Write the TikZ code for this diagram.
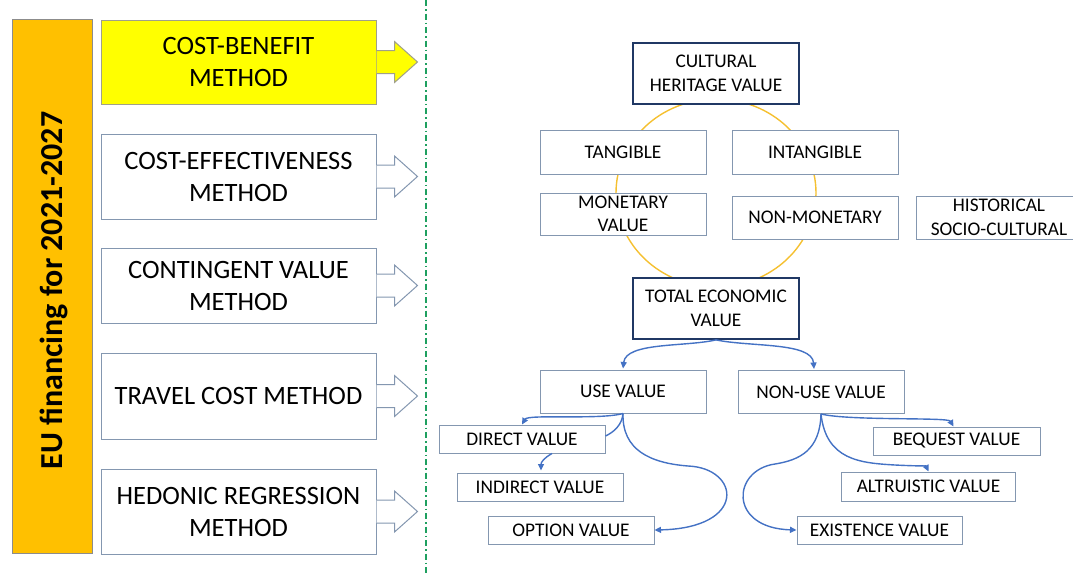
\documentclass[tikz,border=0pt]{standalone}
\usepackage{fontspec}
\setmainfont{Carlito}
\usetikzlibrary{arrows.meta,calc}
\definecolor{orangefill}{HTML}{FFC000}
\definecolor{barline}{HTML}{8C8C8C}
\definecolor{yfill}{HTML}{FFFF00}
\definecolor{yline}{HTML}{A0A08A}
\definecolor{boxline}{HTML}{8497B0}
\definecolor{navy}{HTML}{203864}
\definecolor{goldline}{HTML}{F5C030}
\definecolor{cblue}{HTML}{4472C4}
\definecolor{sepgreen}{HTML}{1FA060}
\newcommand\blkarrow[3]{\draw[fill=#2,draw=#3,line width=1pt,line join=miter] ($(#1.east)+(0,11.5)$) -- ++(18,0) -- ++(0,9) -- ++(23,-20.5) -- ++(-23,-20.5) -- ++(0,9) -- ++(-18,0);}
\tikzset{
  methodbox/.style={draw=boxline, fill=white, line width=1pt, minimum width=275pt, minimum height=85pt, inner sep=0pt, align=center, font=\fontsize{26.5}{32}\selectfont},
  valbox/.style={draw=boxline, fill=white, line width=1pt, minimum width=166pt, minimum height=43pt, inner sep=0pt, align=center, font=\fontsize{19.3}{23.5}\selectfont},
  smallbox/.style={valbox, minimum height=28pt},
  keybox/.style={valbox, draw=navy, line width=1.8pt, minimum height=61pt},
  conn/.style={draw=cblue, line width=1.4pt, -{Triangle[length=6.5pt,width=6pt]}},
  plainconn/.style={draw=cblue, line width=1.4pt}
}
\begin{document}
\begin{tikzpicture}[x=1pt,y=-1pt]
\useasboundingbox (0,0) rectangle (1073,574);
% left bar
\node[draw=barline, fill=orangefill, line width=1pt, minimum width=80pt, minimum height=534pt, inner sep=0pt] (bar) at (52,286) {};
\node[rotate=90, font=\bfseries\fontsize{32}{38}\selectfont] (bartext) at (54,290.5) {EU financing for 2021-2027};
% separator
\draw[sepgreen, line width=1.4pt, dash pattern=on 6pt off 3pt on 1.5pt off 3pt] (426,0) -- (426,574);
% method boxes
\node[methodbox, fill=yfill, draw=yline, minimum height=84pt] (m1) at (238.5,62) {COST-BENEFIT\\METHOD};
\node[methodbox] (m2) at (238.5,176.5) {COST-EFFECTIVENESS\\METHOD};
\node[methodbox, minimum height=75pt] (m3) at (238.5,285.5) {CONTINGENT VALUE\\METHOD};
\node[methodbox, minimum height=86pt] (m4) at (238.5,396) {TRAVEL COST METHOD};
\node[methodbox] (m5) at (238.5,511.5) {HEDONIC REGRESSION\\METHOD};
\blkarrow{m1}{yfill}{yline}
\blkarrow{m2}{white}{boxline}
\blkarrow{m3}{white}{boxline}
\blkarrow{m4}{white}{boxline}
\blkarrow{m5}{white}{boxline}
% ring
\draw[goldline, line width=1.4pt] (716,193) ellipse [x radius=100pt, y radius=94pt];
% value boxes
\node[keybox] (chv) at (716,73.5) {CULTURAL\\HERITAGE VALUE};
\node[valbox, minimum height=44pt] (tang) at (623,152) {TANGIBLE};
\node[valbox, minimum height=44pt] (intang) at (815,152) {INTANGIBLE};
\node[valbox, minimum height=42pt] (monet) at (623,214) {MONETARY\\[-1pt]VALUE};
\node[valbox] (nonmonet) at (815,217.5) {NON-MONETARY};
\draw[boxline, line width=1pt, fill=white] (1074,196) -- (916,196) -- (916,239) -- (1074,239);
\node[align=center, inner sep=0pt, font=\fontsize{19.3}{23.5}\selectfont] (hist) at (999,217.5) {HISTORICAL\\SOCIO-CULTURAL};
\node[keybox] (tev) at (716,308.5) {TOTAL ECONOMIC\\VALUE};
\node[valbox] (use) at (623,391.5) {USE VALUE};
\node[valbox] (nonuse) at (821,392) {NON-USE VALUE};
\node[smallbox] (direct) at (522,439) {DIRECT VALUE};
\node[smallbox] (indirect) at (540,487) {INDIRECT VALUE};
\node[smallbox] (option) at (571,530) {OPTION VALUE};
\node[smallbox, minimum width=167pt] (bequest) at (956.5,441) {BEQUEST VALUE};
\node[smallbox, minimum width=174pt, minimum height=29pt] (altru) at (928.5,486.5) {ALTRUISTIC VALUE};
\node[smallbox, minimum width=165pt] (exist) at (879.5,530) {EXISTENCE VALUE};
% connectors
\draw[conn] (tev.south) .. controls (685,347) and (626,342) .. ($(use.north)+(0,-1)$);
\draw[conn] (tev.south) .. controls (750,347) and (812,342) .. ($(nonuse.north)+(-7,-1)$);
\draw[conn] (use.south) .. controls (600,420) and (528,414) .. (direct.north);
\draw[plainconn] (use.south) .. controls (622,425) and (614,432) .. ($(direct.east)+(0,-3)$);
\draw[conn] ($(direct.south)+(30,0)$) .. controls (544,458) and (541,462) .. ($(indirect.north)+(1,-2)$);
\draw[conn] (use.south) .. controls (622,450) and (650,463) .. (688,466) .. controls (740,468) and (748,528) .. (option.east);
\draw[conn] (nonuse.south) .. controls (850,421) and (948,417) .. ($(bequest.north)+(-3,0)$);
\draw[conn] (nonuse.south) .. controls (826,460) and (860,463) .. (895,465) .. controls (915,466) and (926,466) .. (altru.north);
\draw[conn] (nonuse.south) .. controls (820,450) and (800,460) .. (775,464) .. controls (732,470) and (728,528) .. (exist.west);
\end{tikzpicture}
\end{document}
